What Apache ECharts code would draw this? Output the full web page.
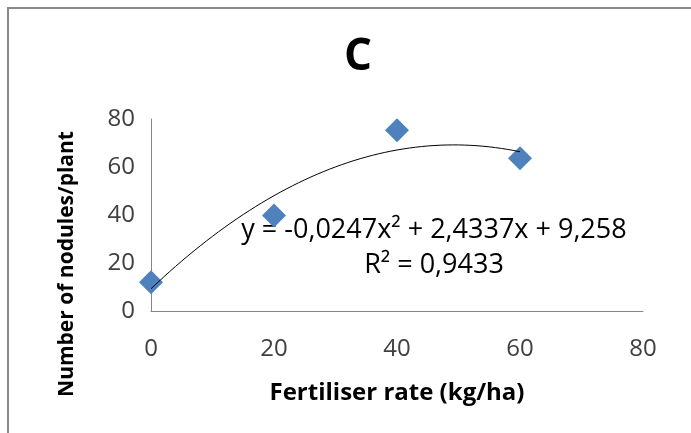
<!DOCTYPE html>
<html><head><meta charset="utf-8">
<script src="https://cdn.jsdelivr.net/npm/echarts@6/dist/echarts.min.js"></script>
<style>html,body{margin:0;padding:0;background:#fff}#c{width:691px;height:433px}</style>
</head><body><div id="c"></div>
<script>
const rates = [0, 20, 40, 60];
const nodules = [12, 39.8, 75.3, 63.6];
const trendCoef = [9.258, 2.4337, -0.0247]; // c0, c1, c2 from the chart's equation
const xTicks = [0, 20, 40, 60, 80];
const yTicks = [0, 20, 40, 60, 80];
const titleText = 'C';
const xName = 'Fertiliser rate (kg/ha)';
const yName = 'Number of nodules/plant';
const eqLines = ['y = -0,0247x² + 2,4337x + 9,258', 'R² = 0,9433'];

const trend = [];
for (let x = rates[0]; x <= rates[rates.length - 1]; x += 1) {
  trend.push([x, trendCoef[0] + trendCoef[1] * x + trendCoef[2] * x * x]);
}
const FONT = '"Open Sans", sans-serif';
const chart = echarts.init(document.getElementById('c'));
chart.setOption({
  animation: false,
  backgroundColor: '#fff',
  title: { text: titleText, left: 353, top: 30, textAlign: 'center',
    textStyle: { fontFamily: FONT, fontSize: 44, fontWeight: 'bold', color: '#000' } },
  grid: { left: 151, top: 119, right: 48, bottom: 122 },
  xAxis: { type: 'value', min: xTicks[0], max: xTicks[xTicks.length - 1], interval: 20,
    name: xName, nameLocation: 'middle', nameGap: 70,
    nameTextStyle: { fontFamily: FONT, fontSize: 24, fontWeight: 'bold', color: '#000' },
    axisLine: { show: true, lineStyle: { color: '#868686', width: 1 } },
    axisTick: { show: false }, splitLine: { show: false },
    axisLabel: { margin: 26, fontFamily: FONT, fontSize: 24, color: '#404040' } },
  yAxis: { type: 'value', min: yTicks[0], max: yTicks[yTicks.length - 1], interval: 20,
    axisLine: { show: true, lineStyle: { color: '#868686', width: 1 } },
    axisTick: { show: false }, splitLine: { show: false },
    axisLabel: { margin: 16, fontFamily: FONT, fontSize: 24, color: '#404040' } },
  graphic: [
    { type: 'rect', shape: { x: 8, y: 8, width: 800, height: 600 },
      style: { fill: 'none', stroke: '#888', lineWidth: 2 }, silent: true },
    { type: 'text', x: 67, y: 264, rotation: Math.PI / 2,
      style: { text: yName, fill: '#000', font: 'bold 21px ' + FONT, align: 'center', verticalAlign: 'middle' } },
    { type: 'text', x: 434, y: 230,
      style: { text: eqLines[0], fill: '#000', font: '27px ' + FONT, align: 'center', verticalAlign: 'middle' } },
    { type: 'text', x: 434, y: 265,
      style: { text: eqLines[1], fill: '#000', font: '27px ' + FONT, align: 'center', verticalAlign: 'middle' } }
  ],
  series: [
    { type: 'line', data: trend, showSymbol: false, smooth: false,
      lineStyle: { color: '#000', width: 1 }, z: 3 },
    { type: 'scatter', data: rates.map((r, i) => [r, nodules[i]]),
      symbol: 'diamond', symbolSize: [24, 24],
      itemStyle: { color: '#4f81bd', opacity: 1 }, z: 2 }
  ]
});
</script></body></html>
